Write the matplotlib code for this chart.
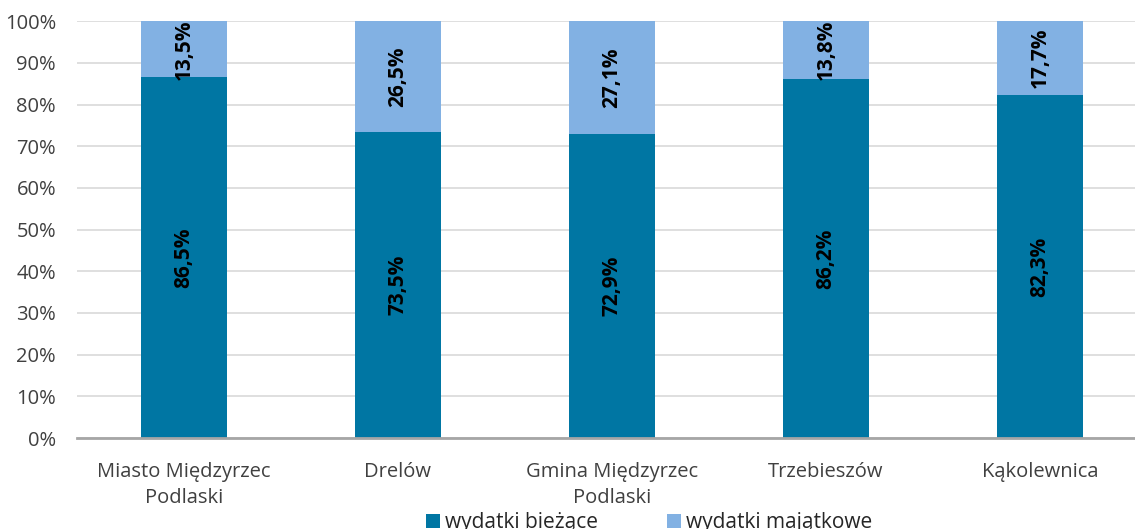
import numpy as np
import matplotlib.pyplot as plt

# Struktura wydatków gmin (%)
gminy = ["Miasto Międzyrzec\nPodlaski", "Drelów", "Gmina Międzyrzec\nPodlaski", "Trzebieszów", "Kąkolewnica"]
biezace = [86.5, 73.5, 72.9, 86.2, 82.3]
majatkowe = [13.5, 26.5, 27.1, 13.8, 17.7]

c_biez = "#0076A3"
c_maj = "#82B1E3"

plt.rcParams['font.family'] = ['Open Sans', 'DejaVu Sans']

fig = plt.figure(figsize=(11.35, 5.29), dpi=100)
ax = fig.add_axes([0.0678, 0.172, 0.9428, 0.788])

x = np.arange(len(gminy))
w = 0.4
b1 = ax.bar(x, biezace, w, color=c_biez, label="wydatki bieżące", zorder=2)
b2 = ax.bar(x, majatkowe, w, bottom=biezace, color=c_maj, label="wydatki majątkowe", zorder=2)

# etykiety wartości w środku segmentów
for i in range(len(gminy)):
    ax.text(x[i], biezace[i] / 2, f"{biezace[i]:.1f}%".replace(".", ","), rotation=90,
            ha="center", va="center", fontsize=15, fontweight="bold", color="black", zorder=3)
    ax.text(x[i], biezace[i] + majatkowe[i] / 2, f"{majatkowe[i]:.1f}%".replace(".", ","), rotation=90,
            ha="center", va="center", fontsize=15, fontweight="bold", color="black", zorder=3)

ax.set_xlim(-0.5, len(gminy) - 0.5)
ax.set_ylim(0, 100)
ax.set_yticks(np.arange(0, 101, 10))
ax.set_yticklabels([f"{v}%" for v in range(0, 101, 10)])
ax.set_xticks(x)
ax.set_xticklabels(gminy, linespacing=1.45)
ax.tick_params(axis="both", length=0, labelsize=14.5, colors="#404040")
ax.tick_params(axis="y", pad=15)
ax.tick_params(axis="x", pad=17)
ax.grid(axis="y", color="#D9D9D9", linewidth=1.2, zorder=0)
for s in ["top", "right", "left"]:
    ax.spines[s].set_visible(False)
ax.spines["bottom"].set_color("#A6A6A6")
ax.spines["bottom"].set_linewidth(2)
ax.spines["bottom"].set_zorder(3)

fig.legend(handles=[b1, b2], loc="center", bbox_to_anchor=(0.572, 0.012), ncol=2, frameon=False,
           fontsize=15, handlelength=0.65, handleheight=0.65, handletextpad=0.25, columnspacing=3.3,
           labelcolor="#262626")

fig.savefig("out.png", dpi=100)
